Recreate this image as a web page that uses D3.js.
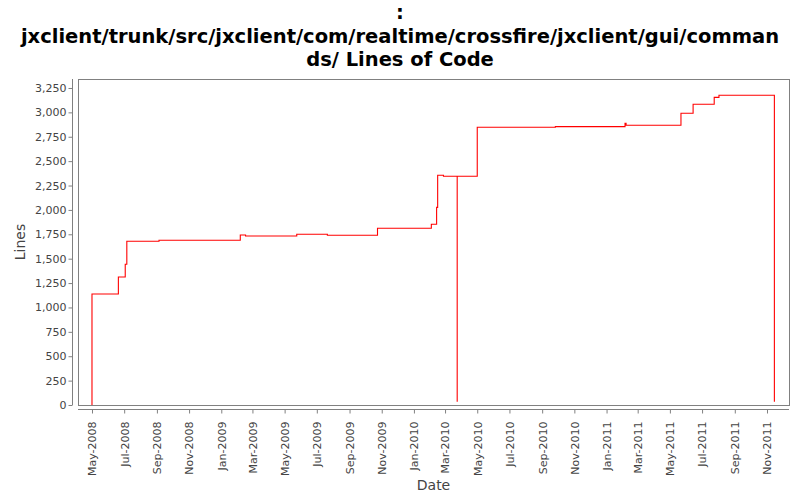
<!DOCTYPE html>
<html>
<head>
<meta charset="utf-8">
<script src="https://cdn.jsdelivr.net/npm/d3@7"></script>
<style>
  html, body { margin: 0; padding: 0; background: #fff; }
  svg { display: block; }
</style>
</head>
<body>
<svg id="chart" width="800" height="500"></svg>
<script>
// ---- data ----
const titleLines = [":", "jxclient/trunk/src/jxclient/com/realtime/crossfire/jxclient/gui/comman", "ds/ Lines of Code"];
const dates = ["2008-05-01","2008-05-01","2008-06-20","2008-07-03","2008-07-06","2008-09-05",
  "2009-02-06","2009-02-16","2009-05-24","2009-07-21","2009-10-24","2010-02-03","2010-02-13",
  "2010-02-15","2010-02-26","2010-03-24","2010-03-24","2010-05-01","2010-09-26","2011-02-05",
  "2011-02-07","2011-05-22","2011-06-14","2011-07-24","2011-08-02","2011-11-15"];
const lines = [0,1138,1312,1443,1678,1689,1743,1733,1750,1740,1812,1853,2026,2355,2345,34,2345,
  2848,2854,2889,2868,2991,3083,3154,3175,34];
const yTicks = [0,250,500,750,1000,1250,1500,1750,2000,2250,2500,2750,3000,3250];
const xTickDates = ["2008-05-01","2008-07-01","2008-09-01","2008-11-01","2009-01-01","2009-03-01",
  "2009-05-01","2009-07-01","2009-09-01","2009-11-01","2010-01-01","2010-03-01","2010-05-01",
  "2010-07-01","2010-09-01","2010-11-01","2011-01-01","2011-03-01","2011-05-01","2011-07-01",
  "2011-09-01","2011-11-01"];
const xDomain = ["2008-04-04T12:00:00", "2011-12-12T17:00:00"];
const yDomain = [0, 3342];

const parse = d3.isoParse;
const data = dates.map((d, i) => ({ date: parse(d), value: lines[i] }));

// ---- layout ----
const plot = { left: 78, right: 789, top: 79, bottom: 405 };
const svg = d3.select("#chart");
const font = "'DejaVu Sans', sans-serif";

const x = d3.scaleTime().domain(xDomain.map(parse)).range([plot.left, plot.right]);
const y = d3.scaleLinear().domain(yDomain).range([plot.bottom, plot.top]);

// title
const titleY = [19, 43, 65.5];
svg.append("g").selectAll("text").data(titleLines).join("text")
  .attr("x", 400)
  .attr("y", (d, i) => titleY[i])
  .attr("text-anchor", "middle")
  .attr("font-family", font)
  .attr("font-weight", "bold")
  .attr("font-size", (d, i) => i === 1 ? 19.5 : 19.5)
  .attr("fill", "#000")
  .text(d => d);

// plot background & border
svg.append("rect")
  .attr("x", plot.left + 0.5).attr("y", plot.top + 0.5)
  .attr("width", plot.right - plot.left).attr("height", plot.bottom - plot.top)
  .attr("fill", "#fff").attr("stroke", "#808080").attr("stroke-width", 1);

// line
const lineGen = d3.line().x(d => x(d.date)).y(d => y(d.value)).curve(d3.curveStepAfter);
svg.append("path")
  .datum(data)
  .attr("d", lineGen)
  .attr("fill", "none")
  .attr("stroke", "#ff0000")
  .attr("stroke-width", 1.1);

// y axis
const yAxis = d3.axisLeft(y).tickValues(yTicks).tickSize(4).tickPadding(2)
  .tickFormat(d3.format(","));
const gy = svg.append("g").attr("transform", `translate(${plot.left - 5.5},0)`).call(yAxis);
gy.select(".domain").attr("stroke", "#808080").attr("d", `M0,${plot.top}V${plot.bottom}`);
gy.selectAll(".tick line").attr("stroke", "#808080");
gy.selectAll(".tick text").attr("font-family", font).attr("font-size", 11).attr("fill", "#444");

// x axis
const xAxis = d3.axisBottom(x).tickValues(xTickDates.map(parse)).tickSize(4).tickPadding(2)
  .tickFormat(d3.timeFormat("%b-%Y"));
const gx = svg.append("g").attr("transform", `translate(0,${plot.bottom + 4.5})`).call(xAxis);
gx.select(".domain").attr("stroke", "#808080").attr("d", `M${plot.left},0H${plot.right}`);
gx.selectAll(".tick line").attr("stroke", "#808080");
gx.selectAll(".tick text")
  .attr("font-family", font).attr("font-size", 11).attr("fill", "#444")
  .attr("text-anchor", "end")
  .attr("transform", "rotate(-90)")
  .attr("x", -12).attr("y", 0).attr("dy", "0.35em");

// axis labels
svg.append("text")
  .attr("transform", `translate(25,${(plot.top + plot.bottom) / 2}) rotate(-90)`)
  .attr("text-anchor", "middle")
  .attr("font-family", font).attr("font-size", 14).attr("fill", "#444")
  .text("Lines");
svg.append("text")
  .attr("x", (plot.left + plot.right) / 2).attr("y", 490)
  .attr("text-anchor", "middle")
  .attr("font-family", font).attr("font-size", 14).attr("fill", "#444")
  .text("Date");
</script>
</body>
</html>
